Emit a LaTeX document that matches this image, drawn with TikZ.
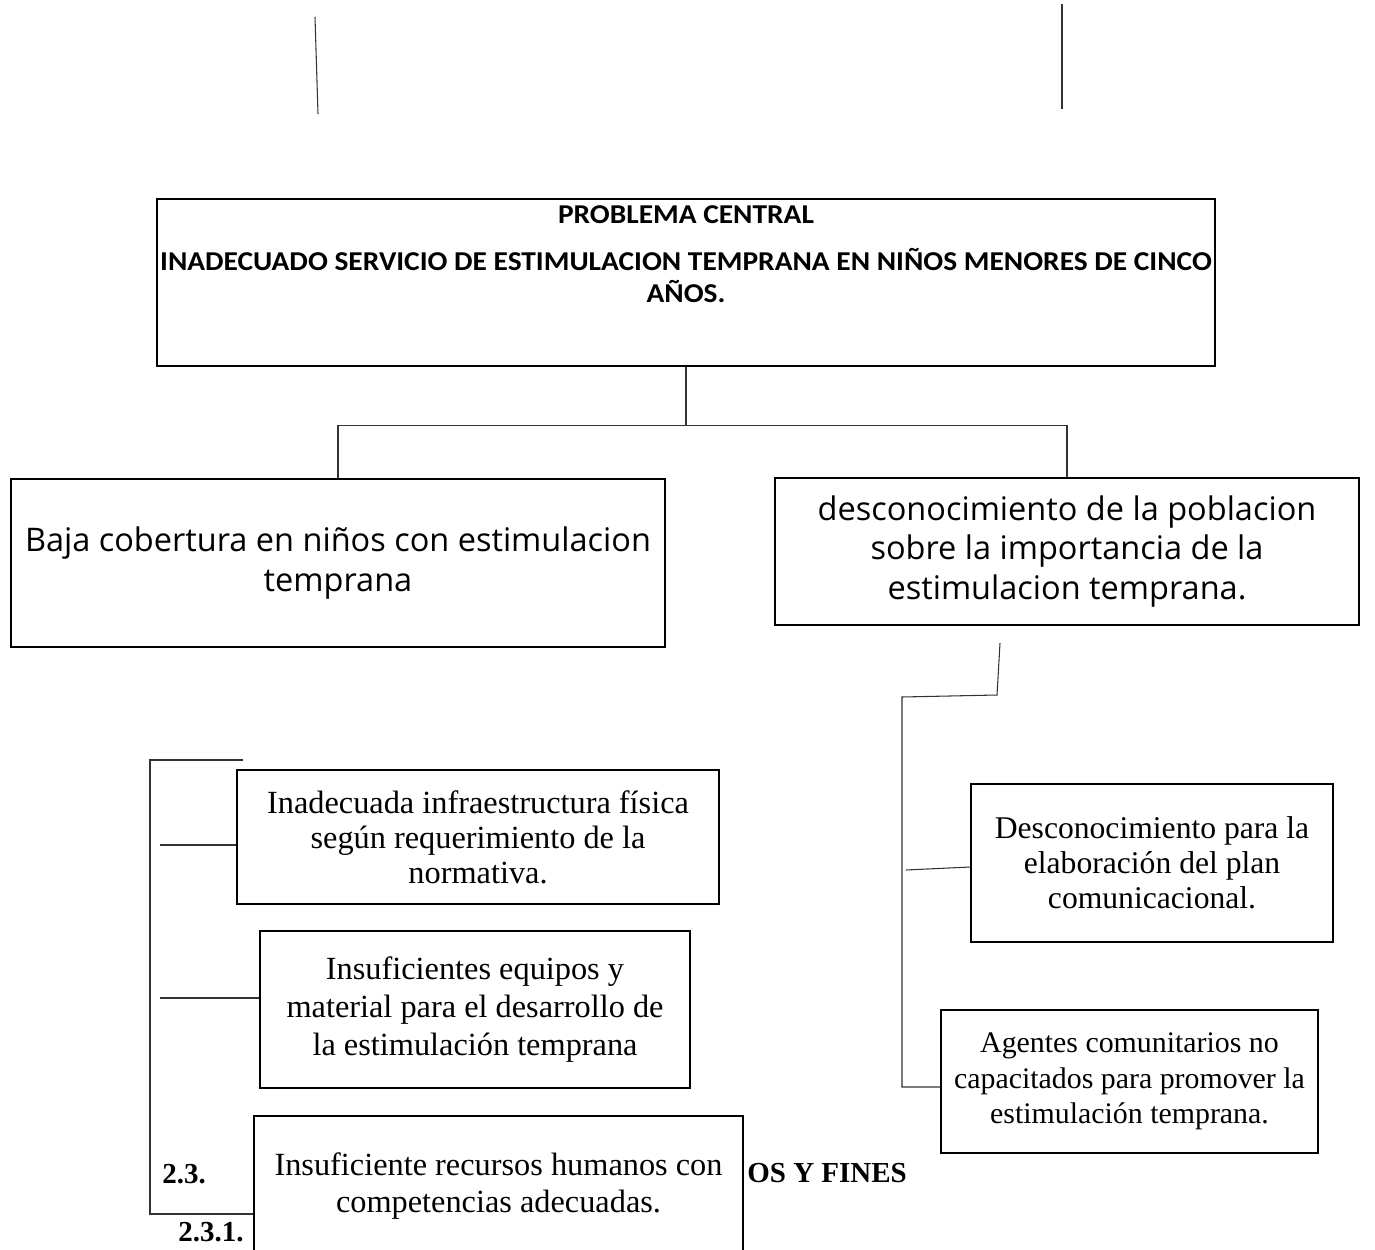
\documentclass[tikz,border=0pt]{standalone}
\usepackage{fontspec}
\setmainfont{Liberation Serif}
\newfontfamily\calib{Carlito}
\newfontfamily\osans{Open Sans}
\begin{document}
\begin{tikzpicture}[x=0.02cm,y=-0.02cm,
  box/.style={draw,line width=1.1pt,fill=white,inner sep=0pt,align=center},
  conn/.style={draw,line width=0.6pt,black!80},
  serifbox/.style={box,font=\fontsize{18.4}{20}\selectfont},
  sansbox/.style={box,font=\osans\fontsize{18.5}{22.7}\selectfont},
  ctxt/.style={font=\calib\bfseries\fontsize{15.5}{18}\selectfont,anchor=base,inner sep=0pt},
  numtxt/.style={font=\bfseries\fontsize{16.5}{18}\selectfont,anchor=base west,inner sep=0pt}]
\clip (0,0) rectangle (1375,1250);
\fill[white] (0,0) rectangle (1375,1250);

% top stray lines
\coordinate (t1a) at (315,17); \coordinate (t1b) at (318,114);
\coordinate (t2a) at (1062,4); \coordinate (t2b) at (1062,109);
\draw[conn] (t1a) -- (t1b);
\draw[conn] (t2a) -- (t2b);

% central problem
\node[box,minimum width=21.16cm,minimum height=3.34cm] (central) at (686,282.5) {};
\node[ctxt] (ctitle) at (686,223) {\scalebox{1.08}[1]{PROBLEMA CENTRAL}};
\node[ctxt] (ctext1) at (686,270) {\scalebox{1.08}[1]{INADECUADO SERVICIO DE ESTIMULACION TEMPRANA EN NIÑOS MENORES DE CINCO}};
\node[ctxt] (ctext2) at (686,302) {\scalebox{1.08}[1]{AÑOS.}};

% first level
\node[sansbox,minimum width=13.08cm,minimum height=3.36cm] (leftb) at (338,563) {Baja cobertura en niños con estimulacion\\temprana};
\node[sansbox,minimum width=11.68cm,minimum height=2.94cm] (rightb) at (1067,551.5) {desconocimiento de la poblacion\\sobre la importancia de la\\estimulacion temprana.};

\draw[conn] (central.south) -- ++(0,59) coordinate (cj) -| (leftb.north);
\draw[conn] (cj) -| (rightb.north);

% right branch
\node[serifbox,font=\fontsize{18}{20}\selectfont,minimum width=7.24cm,minimum height=3.16cm] (desc) at (1152,863) {Desconocimiento para la\\elaboración del plan\\comunicacional.};
\node[serifbox,font=\fontsize{17}{20.1}\selectfont,minimum width=7.54cm,minimum height=2.86cm] (agent) at (1129.5,1081.5) {Agentes comunitarios no\\capacitados para promover la\\estimulación temprana.};

\coordinate (r1) at (1000,643);
\coordinate (r2) at (997,695);
\coordinate (r3) at (902,697);
\coordinate (r4) at (902,1087);
\coordinate (rs) at (906,870);
\draw[conn] (r1) -- (r2) -- (r3) -- (r4) -- (agent.west |- r4);
\draw[conn] (rs) -- ([yshift=-0.08cm]desc.west);

% left branch
\node[serifbox,minimum width=9.64cm,minimum height=2.68cm] (inf) at (478,837) {Inadecuada infraestructura física\\según requerimiento de la\\normativa.};
\node[serifbox,font=\fontsize{18.4}{21.8}\selectfont,minimum width=8.6cm,minimum height=3.14cm] (equip) at (475,1009.5) {Insuficientes equipos y\\material para el desarrollo de\\la estimulación temprana};

\node[numtxt] (n23) at (162,1183) {2.3.};
\node[numtxt] (fines) at (747,1182) {OS Y FINES};
\node[numtxt] (n231) at (178,1241) {2.3.1.};

\node[serifbox,font=\fontsize{18.4}{21.5}\selectfont,minimum width=9.78cm,minimum height=2.8cm] (hum) at (498.5,1186) {Insuficiente recursos humanos con\\competencias adecuadas.};

\coordinate (l0) at (243,760);
\coordinate (l1) at (150,760);
\coordinate (l2) at (150,1214);
\coordinate (ls1) at (160,845);
\coordinate (ls2) at (160,998);
\draw[conn] (l0) -- (l1) -- (l2) -- (hum.west |- l2);
\draw[conn] (ls1) -- (inf.west |- ls1);
\draw[conn] (ls2) -- (equip.west |- ls2);
\end{tikzpicture}
\end{document}
